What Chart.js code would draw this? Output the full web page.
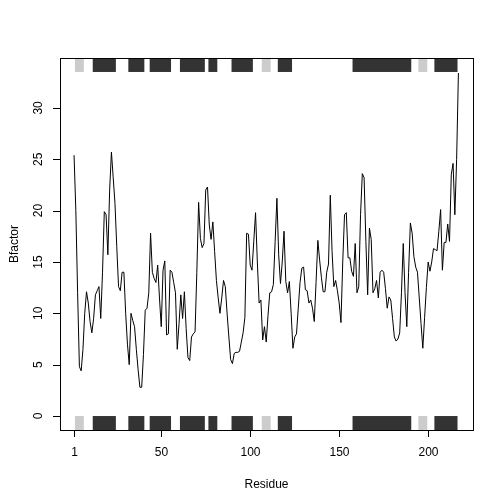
<!DOCTYPE html>
<html><head><meta charset="utf-8">
<script src="https://cdn.jsdelivr.net/npm/chart.js@4/dist/chart.umd.min.js"></script>
<style>html,body{margin:0;padding:0;background:#fff}#c{display:block}</style>
</head><body><canvas id="c" width="504" height="504"></canvas>
<script>
const bfactor = [25.4,20,12,4.8,4.4,6.5,10,12.1,11,9.2,8.1,9.5,11.8,12.2,12.6,9.5,14,19.9,19.6,15.7,
22,25.7,23.2,20.7,16.5,12.6,12.2,14,14,10,7,5,10,9.3,8.7,6.5,4.5,2.8,2.8,6,
10.3,10.5,12,17.8,14,13.4,13,14.7,11.5,8.7,14.2,15.1,7.9,8,14.2,14,13,12,6.5,9,
11.8,9.5,12.1,8.5,5.7,5.4,7.7,8,8.2,14,20.8,17.3,16.4,16.8,22,22.3,18.6,17.2,18.9,16,
13.2,11.5,10,11.5,13.2,12.6,10,7.7,5.5,5.1,6.1,6.2,6.2,6.3,7.2,8.1,9.6,17.8,17.7,14.7,
14.2,17,19.8,15,11,11.3,7.4,8.7,7.2,9.8,12,12.1,12.8,17,21.2,15.7,12.9,15,18,13.1,
12,13.1,10,6.6,7.7,8,10.5,13,14.4,14.5,12.3,12.2,11,11.3,10.5,9.2,13,17.1,15.2,13.5,
12.1,12.1,14,14.8,21.5,16,12.6,13.2,12.2,11,9.1,15,19.6,19.8,15.4,15.4,14.1,13.6,16.8,12,
12.6,19.6,23.6,23.2,17,11.8,18.3,17.2,12,12.4,13.2,11.5,14,14.2,14,12.4,10.5,11.6,11.3,9.5,
7.7,7.3,7.5,8.1,12,16.8,12,8.7,14,18.8,17.8,15.5,14.5,14,11.5,9,6.6,9.6,12.5,15,
14.1,15,16.3,16.2,16.1,18,20.1,14.2,16.9,16.9,18.7,17,23.5,24.6,19.6,25,33.4];
const residues = bfactor.map((v,i)=>i+1);
const xTicks = [1,50,100,150,200];
const yTicks = [0,5,10,15,20,25,30];
// secondary structure: [start, end, type] (H = helix dark, E = strand light)
const sseStart = [2,12,32,44,61,77,90,107,116,158,195,204];
const sseEnd   = [6,24,40,55,74,81,101,111,123,190,199,216];
const sseType  = ['E','H','H','H','H','H','H','E','H','H','E','H'];

const rPlugin = {
  id:'rstyle',
  afterDatasetsDraw(chart){
    const {ctx, chartArea:a, scales:{x,y}} = chart;
    ctx.save();
    // SSE bars
    for(let i=0;i<sseStart.length;i++){
      ctx.fillStyle = sseType[i]==='H' ? '#333333' : '#cccccc';
      const x0 = x.getPixelForValue(sseStart[i]-0.5), x1 = x.getPixelForValue(sseEnd[i]+0.5);
      ctx.fillRect(x0, a.top, x1-x0, y.getPixelForValue(33.5)-a.top);
      const b0 = y.getPixelForValue(0);
      ctx.fillRect(x0, b0, x1-x0, a.bottom-b0);
    }
    ctx.strokeStyle='#000'; ctx.lineWidth=1; ctx.fillStyle='#000';
    ctx.strokeRect(Math.round(a.left)+0.5, Math.round(a.top)+0.5, Math.round(a.right-a.left), Math.round(a.bottom-a.top));
    ctx.font='12px "Liberation Sans", Arial, sans-serif';
    // x axis
    ctx.beginPath();
    const xa = x.getPixelForValue(xTicks[0]), xb = x.getPixelForValue(xTicks[xTicks.length-1]);
    ctx.moveTo(xa, a.bottom+0.5); ctx.lineTo(xb, a.bottom+0.5);
    ctx.textAlign='center'; ctx.textBaseline='top';
    xTicks.forEach(t=>{const p=Math.round(x.getPixelForValue(t))+0.5; ctx.moveTo(p,a.bottom); ctx.lineTo(p,a.bottom+7); ctx.fillText(String(t),p,a.bottom+17);});
    // y axis
    const ya = y.getPixelForValue(yTicks[0]), yb = y.getPixelForValue(yTicks[yTicks.length-1]);
    ctx.moveTo(a.left+0.5, ya); ctx.lineTo(a.left+0.5, yb);
    yTicks.forEach(t=>{const p=Math.round(y.getPixelForValue(t))+0.5; ctx.moveTo(a.left,p); ctx.lineTo(a.left-7,p);});
    ctx.stroke();
    yTicks.forEach(t=>{const p=y.getPixelForValue(t); ctx.save(); ctx.translate(a.left-15,p); ctx.rotate(-Math.PI/2); ctx.textAlign='center'; ctx.textBaseline='bottom'; ctx.fillText(String(t),0,0); ctx.restore();});
    ctx.textAlign='center'; ctx.textBaseline='middle';
    ctx.fillText('Residue',(a.left+a.right)/2,485);
    ctx.save(); ctx.translate(15,(a.top+a.bottom)/2); ctx.rotate(-Math.PI/2); ctx.fillText('Bfactor',0,0); ctx.restore();
    ctx.restore();
  }
};

new Chart(document.getElementById('c'),{
  type:'line',
  data:{datasets:[{data:residues.map((r,i)=>({x:r,y:bfactor[i]})),borderColor:'#000',borderWidth:1,pointRadius:0,tension:0,fill:false}]},
  options:{
    responsive:false,animation:false,
    layout:{padding:{left:60,top:58,right:31,bottom:74}},
    plugins:{legend:{display:false},tooltip:{enabled:false}},
    scales:{
      x:{type:'linear',min:-6.9,max:225.2,display:false},
      y:{type:'linear',min:-1.36,max:34.86,display:false}
    }
  },
  plugins:[rPlugin]
});
</script></body></html>
